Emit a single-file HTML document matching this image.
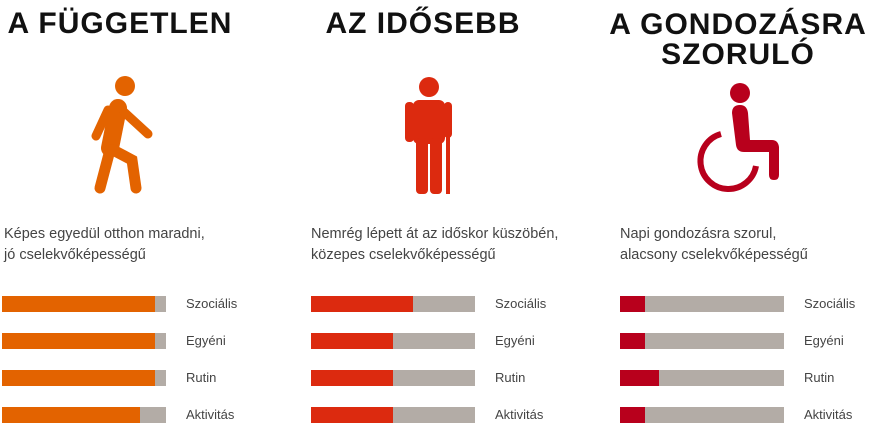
<!DOCTYPE html>
<html><head><meta charset="utf-8"><style>
body{margin:0;width:870px;height:427px;background:#fff;overflow:hidden;font-family:"Liberation Sans",sans-serif;position:relative}
.t{position:absolute;font-weight:bold;font-size:30px;color:#111;text-align:center;line-height:28px;letter-spacing:1px}
.d{position:absolute;font-size:14.5px;color:#444;line-height:21px}
</style></head><body>
<div class="t" style="left:0;top:10px;width:240px">A FÜGGETLEN</div>
<div class="t" style="left:313px;top:10px;width:220px">AZ IDŐSEBB</div>
<div class="t" style="left:596px;top:10px;width:284px;line-height:30px">A GONDOZÁSRA<br>SZORULÓ</div>

<svg style="position:absolute;left:80px;top:74px" width="80" height="124" viewBox="80 74 80 124">
<circle cx="125" cy="86" r="10" fill="#e36300"/>
<g stroke="#e36300" stroke-linecap="round" fill="none">
<path d="M118 108 L110 148" stroke-width="18"/>
<path d="M110 150 L100 188" stroke-width="11"/>
<path d="M113 150 L132 160 L136 188" stroke-width="11"/>
<path d="M108 110 L96 136" stroke-width="9"/>
<path d="M124 112 L148 134" stroke-width="9"/>
</g></svg>

<svg style="position:absolute;left:400px;top:74px" width="60" height="124" viewBox="400 74 60 124">
<circle cx="429" cy="87" r="10" fill="#dc2a0f"/>
<rect x="413" y="100" width="32" height="44" rx="6" fill="#dc2a0f"/>
<rect x="405" y="102" width="9" height="40" rx="4" fill="#dc2a0f"/>
<rect x="444" y="102" width="8" height="36" rx="4" fill="#dc2a0f"/>
<rect x="416" y="138" width="12" height="56" rx="4" fill="#dc2a0f"/>
<rect x="430" y="138" width="12" height="56" rx="4" fill="#dc2a0f"/>
<path d="M448 136 V194" stroke="#dc2a0f" stroke-width="4" fill="none"/>
</svg>

<svg style="position:absolute;left:690px;top:80px" width="95" height="115" viewBox="690 80 95 115">
<circle cx="740" cy="93" r="10" fill="#b8001c"/>
<path d="M732 113 Q732 105 740 105 Q747 105 748 113 L750 140 L772 140 Q778 140 779 147 L779 175 Q779 180 774 180 Q769 180 769 175 L769 152 L744 152 Q737 152 736 145 Z" fill="#b8001c"/>
<path d="M721 134 A28 28 0 1 0 756 166" stroke="#b8001c" stroke-width="6" fill="none"/>
</svg>

<div class="d" style="left:4px;top:224px">Képes egyedül otthon maradni,<br>jó cselekvőképességű</div>
<div class="d" style="left:311px;top:224px">Nemrég lépett át az időskor küszöbén,<br>közepes cselekvőképességű</div>
<div class="d" style="left:620px;top:224px">Napi gondozásra szorul,<br>alacsony cselekvőképességű</div>

<div id="bars"></div>
<script>
const categories=["Szociális","Egyéni","Rutin","Aktivitás"];
const independentValues=[93,93,93,84];
const elderlyValues=[62,50,50,50];
const careValues=[15,15,24,15];
const groups=[{v:independentValues,x:2,c:"#e36300",n:"independent"},{v:elderlyValues,x:311,c:"#dc2a0f",n:"elderly"},{v:careValues,x:620,c:"#b8001c",n:"care"}];
const W=164,H=16;
function yPos(i){return 296+i*37;}
function xLen(v){return v/100*W;}
const host=document.getElementById('bars');
groups.forEach(g=>{
 categories.forEach((cat,i)=>{
  const bg=document.createElement('div');
  
  
  bg.style.cssText=`position:absolute;left:${g.x}px;top:${yPos(i)}px;width:${W}px;height:${H}px;background:#b3aca6`;
  const f=document.createElement('div');
  
  
  f.style.cssText=`position:absolute;left:0;top:0;height:${H}px;width:${xLen(g.v[i])}px;background:${g.c}`;
  bg.appendChild(f);host.appendChild(bg);
  const l=document.createElement('div');
  
  
  l.textContent=cat;
  l.style.cssText=`position:absolute;left:${g.x+184}px;top:${yPos(i)}px;font-size:13px;line-height:16px;color:#444`;
  host.appendChild(l);
 });
});
</script>
</body></html>
